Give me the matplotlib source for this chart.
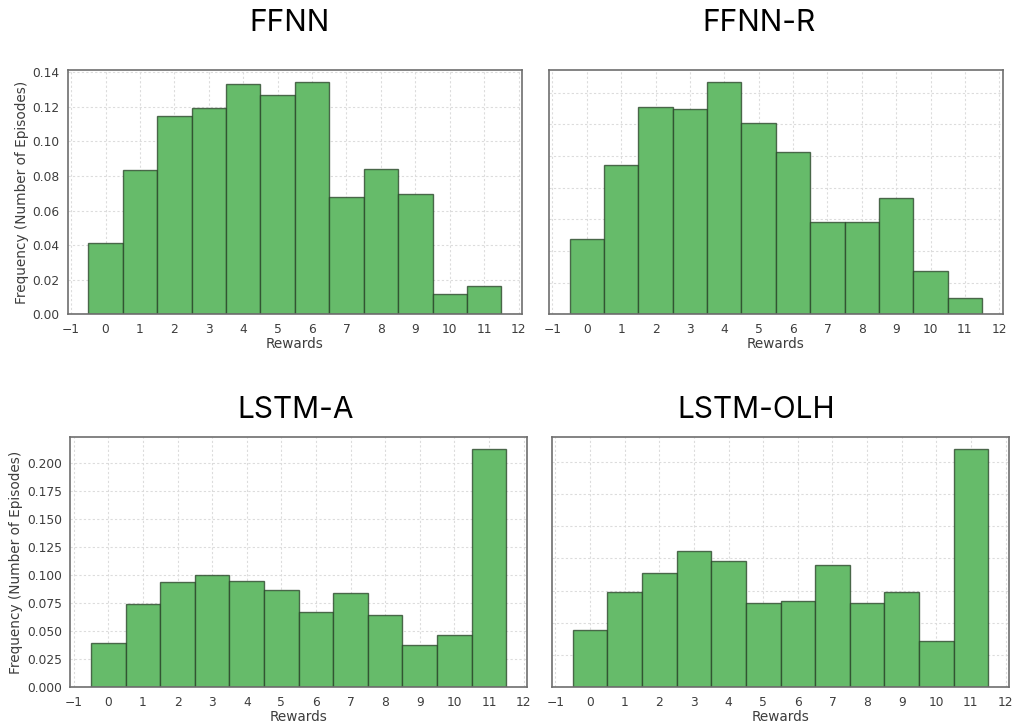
import matplotlib
matplotlib.use("Agg")
import matplotlib.pyplot as plt
from matplotlib.ticker import MultipleLocator, FormatStrFormatter

# Reward values (histogram bin centres) and normalised frequencies per model
rewards = list(range(12))

ffnn = [0.0413, 0.0835, 0.1148, 0.1192, 0.1331, 0.1267, 0.1346, 0.0677, 0.0838, 0.0698, 0.0119, 0.0165]
ffnn_r = [0.0476, 0.0941, 0.1307, 0.1298, 0.1469, 0.1206, 0.1027, 0.0581, 0.0581, 0.0737, 0.0274, 0.0105]
lstm_a = [0.0399, 0.0744, 0.0940, 0.1003, 0.0949, 0.0872, 0.0667, 0.0839, 0.0643, 0.0378, 0.0467, 0.2128]
lstm_olh = [0.0445, 0.0741, 0.0888, 0.1059, 0.0982, 0.0655, 0.0671, 0.0948, 0.0655, 0.0743, 0.0360, 0.1852]

titles = ["FFNN", "FFNN-R", "LSTM-A", "LSTM-OLH"]
xticks = list(range(-1, 13))

W, H = 1016, 728
fig = plt.figure(figsize=(W / 100, H / 100), dpi=100)


def px_axes(left, right, top, bottom):
    return fig.add_axes([left / W, (H - bottom) / H, (right - left) / W, (bottom - top) / H])


panels = [
    (px_axes(67.7, 522.0, 70.0, 314.3), ffnn, 0.02, "%.2f", True, -0.0845),
    (px_axes(549.0, 1002.7, 70.0, 314.3), ffnn_r, 0.02, "%.2f", False, None),
    (px_axes(70.3, 527.0, 436.7, 687.3), lstm_a, 0.025, "%.3f", True, -0.103),
    (px_axes(552.0, 1009.0, 436.7, 687.3), lstm_olh, 0.025, "%.3f", False, None),
]

text_color = "#3d3d3d"
for ax, vals, step, fmt, show_y, ylab_x in panels:
    ax.set_axisbelow(True)
    ax.grid(True, color="#dcdcdc", linestyle=(0, (2, 2)), linewidth=0.8)
    ax.bar(rewards, vals, width=1.0, align="center",
           facecolor="#66BB6A", edgecolor=(0.15, 0.25, 0.15, 0.75), linewidth=1.0)
    ax.set_xticks(xticks)
    ax.yaxis.set_major_locator(MultipleLocator(step))
    ax.yaxis.set_major_formatter(FormatStrFormatter(fmt))
    ax.tick_params(axis="both", length=0, pad=6, labelsize=8.8, labelcolor=text_color)
    for s in ax.spines.values():
        s.set_color("#6e6e6e")
        s.set_linewidth(1.2)
    ax.set_xlabel("Rewards", fontsize=9.8, color=text_color, labelpad=1)
    if show_y:
        ax.set_ylabel("Frequency (Number of Episodes)", fontsize=9.8, color=text_color)
        ax.yaxis.set_label_coords(ylab_x, 0.5)
    else:
        ax.tick_params(axis="y", labelleft=False)

# Panel headings
title_pos = [(289, 23), (758.7, 23), (295.3, 410), (755.8, 410)]
for t, (x, y) in zip(titles, title_pos):
    fig.text(x / W, 1 - y / H, t, ha="center", va="center",
             fontsize=21.5, family=["Inter", "DejaVu Sans"], color="black")

fig.savefig("out.png", dpi=100, facecolor="white")
